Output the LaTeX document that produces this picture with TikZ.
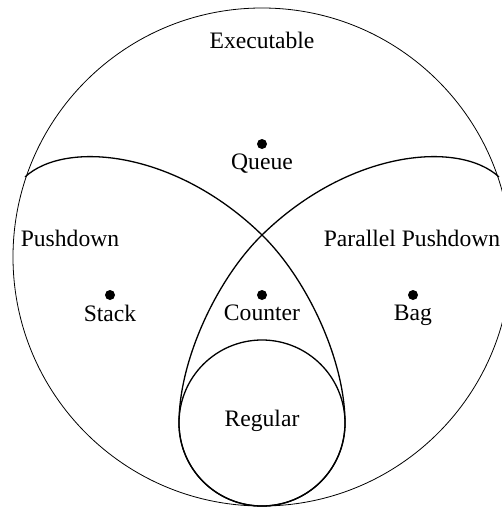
\documentclass[tikz,border=0pt]{standalone}
\usepackage{fontspec}
\setmainfont{Liberation Serif}
\usetikzlibrary{positioning}
\tikzset{
  outer/.style={line width=0.4pt},
  lens/.style={line width=0.65pt},
  dot/.style={circle,fill=black,inner sep=0pt,minimum size=5pt},
  lbl/.style={inner sep=1pt,font=\fontsize{11.8}{14}\selectfont},
}
\begin{document}
\begin{tikzpicture}[x=0.5pt,y=-0.5pt]
   \useasboundingbox (0,0) rectangle (502,508);
   \draw[outer] (262,257) circle[radius=124.5pt];
   \draw[lens] (25,177) .. controls (65,140) and (175,150) .. (262,235)
               .. controls (307,279) and (345,360) .. (345,423)
               .. controls (345,469) and (308,506) .. (262,506);
   \draw[lens] (499,177) .. controls (459,140) and (349,150) .. (262,235)
               .. controls (217,279) and (179,360) .. (179,423)
               .. controls (179,469) and (216,506) .. (262,506);
   \draw[lens] (262,423) circle[radius=41.5pt];
   \node[lbl] (executable) at (262,40) {Executable};
   \node[lbl] (pushdown) at (70,238) {Pushdown};
   \node[lbl] (parallel) at (412,238) {Parallel Pushdown};
   \node[lbl] (regular) at (262,421) {Regular};
   \node[dot] (queue) at (262,144) {};
   \node[dot] (stack) at (110,295) {};
   \node[dot] (counter) at (262,295) {};
   \node[dot] (bag) at (413,295) {};
   \node[lbl,below=1pt of queue] {Queue};
   \node[lbl,below=1pt of stack] {Stack};
   \node[lbl,below=1pt of counter] {Counter};
   \node[lbl,below=1pt of bag] {Bag};
  \end{tikzpicture}
\end{document}
